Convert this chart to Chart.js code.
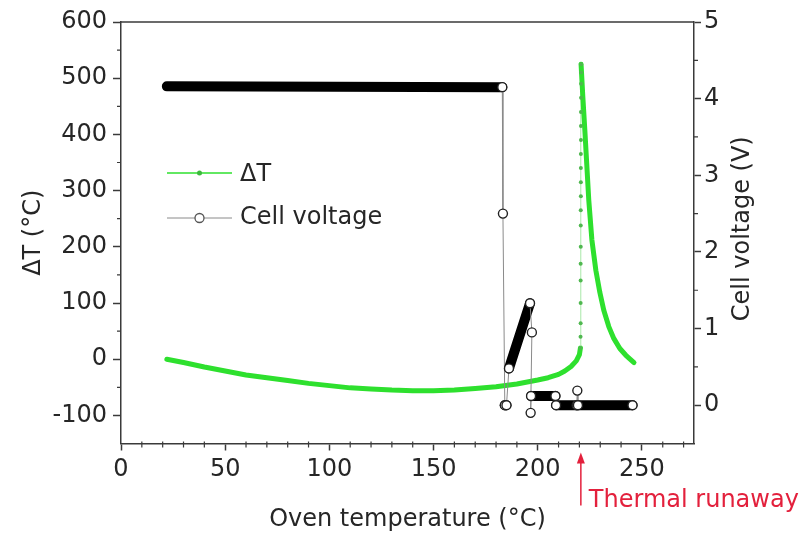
<!DOCTYPE html>
<html>
<head>
<meta charset="utf-8">
<script src="https://cdn.jsdelivr.net/npm/chart.js@4.4.0/dist/chart.umd.min.js"></script>
<style>
  html, body { margin: 0; padding: 0; background: #fff; }
  #wrap { width: 811px; height: 535px; }
</style>
</head>
<body>
<div id="wrap"><canvas id="chart" width="811" height="535"></canvas></div>
<script>
// temperature rise of the cell: oven temperature (°C) -> ΔT (°C)
const dtTemp = [22, 30, 40, 50, 60, 70, 80, 90, 100, 110, 120, 130, 140, 150, 160, 170, 180, 190, 200, 205, 210, 213, 216, 218.5, 220, 220.5,
  220.55, 220.6, 220.6, 220.6, 220.6, 220.65, 220.65, 220.65, 220.7, 220.7, 220.7, 220.7, 220.75, 220.75, 220.75, 220.8, 220.8, 220.8, 220.8,
  221.6, 222.6, 224.5, 226, 227.9, 229.8, 231.7, 234.1, 236.5, 239.4, 242.3, 246.2];
const dtValues = [0, -6, -14, -21, -28, -33, -38, -43, -47, -51, -53, -55, -56, -56, -55, -52, -49, -44, -37, -33, -27, -21, -13, -3, 8, 20,
  40, 64, 100, 140, 170, 200, 238, 265, 290, 315, 340, 365, 390, 415, 440, 465, 490, 510, 525,
  470, 408, 283, 212, 158, 119, 87, 58, 37, 19, 7, -6];

// cell voltage: oven temperature (°C) -> V
const voltTemp = [22, 183, 183.3, 184.2, 185, 186.2, 196.3, 197.2, 196.6, 196.8, 208.5, 208.8, 218.7, 219, 219.3, 245.5];
const voltValues = [4.16, 4.15, 2.5, 0, 0, 0.48, 1.33, 0.95, -0.1, 0.12, 0.12, 0, 0, 0.19, 0, 0];

const xTicks = [0, 50, 100, 150, 200, 250];
const dtTicks = [-100, 0, 100, 200, 300, 400, 500, 600];
const voltTicks = [0, 1, 2, 3, 4, 5];
const runawayTemp = 220.7;

const FONT = '"DejaVu Sans", sans-serif';
const TEXT = '#262626';
const AXIS = '#3a3a3a';
const GREEN = '#2ee02e';
const RED = '#e3203c';

Chart.defaults.font.family = FONT;
Chart.defaults.font.size = 24;
Chart.defaults.color = TEXT;

// a segment is a "jump" when it is much steeper than the dense runs around it
function dtJump(i) {
  if (i < 0 || i >= dtTemp.length - 1) return false;
  const dx = Math.abs(dtTemp[i + 1] - dtTemp[i]);
  const dy = Math.abs(dtValues[i + 1] - dtValues[i]);
  return dy > 5 && dy > 300 * dx;
}
function voltJump(i) {
  if (i < 0 || i >= voltTemp.length - 1) return false;
  const dx = Math.abs(voltTemp[i + 1] - voltTemp[i]);
  const dy = Math.abs(voltValues[i + 1] - voltValues[i]);
  return dy > 0.05 && dy > 0.2 * dx;
}

const decorations = {
  id: 'decorations',
  afterDraw(chart) {
    const { ctx, chartArea: a, scales } = chart;
    ctx.save();

    // top frame line
    ctx.strokeStyle = AXIS;
    ctx.lineWidth = 1.5;
    ctx.beginPath();
    ctx.moveTo(a.left, a.top);
    ctx.lineTo(a.right, a.top);
    ctx.stroke();

    // minor ticks
    ctx.lineWidth = 1.2;
    ctx.beginPath();
    for (let k = 1; k < 28; k++) {
      if (k % 5 === 0) continue;
      const px = scales.x.getPixelForValue(k * 10);
      ctx.moveTo(px, a.bottom - 2);
      ctx.lineTo(px, a.bottom + 4);
    }
    for (let k = -2; k < 12; k++) {
      if (k % 2 === 0) continue;
      const py = scales.y.getPixelForValue(k * 50);
      ctx.moveTo(a.left - 4, py);
      ctx.lineTo(a.left, py);
    }
    for (let k = 1; k < 10; k++) {
      if (k % 2 === 0) continue;
      const py = scales.y2.getPixelForValue(k * 0.5);
      ctx.moveTo(a.right, py);
      ctx.lineTo(a.right + 4, py);
    }
    ctx.stroke();

    // axis titles
    const midY = (a.top + a.bottom) / 2;
    ctx.fillStyle = TEXT;
    ctx.font = '24px ' + FONT;
    ctx.textAlign = 'center';
    ctx.textBaseline = 'middle';
    ctx.save();
    ctx.translate(a.left - 87, midY);
    ctx.rotate(-Math.PI / 2);
    ctx.fillText('ΔT (°C)', 0, 0);
    ctx.restore();
    ctx.save();
    ctx.translate(a.right + 49, midY - 4);
    ctx.rotate(-Math.PI / 2);
    ctx.fillText('Cell voltage (V)', 0, 0);
    ctx.restore();
    ctx.fillText('Oven temperature (°C)', (a.left + a.right) / 2, a.bottom + 76);

    // legend inside the plot
    const lx0 = a.left + 46, lx1 = a.left + 111, lxm = (lx0 + lx1) / 2;
    const ly1 = a.top + 151, ly2 = a.top + 196;
    ctx.lineWidth = 1.5;
    ctx.strokeStyle = GREEN;
    ctx.beginPath(); ctx.moveTo(lx0, ly1); ctx.lineTo(lx1, ly1); ctx.stroke();
    ctx.fillStyle = '#3cb83c';
    ctx.beginPath(); ctx.arc(lxm, ly1, 2.5, 0, Math.PI * 2); ctx.fill();
    ctx.strokeStyle = '#8a8a8a';
    ctx.lineWidth = 1;
    ctx.beginPath(); ctx.moveTo(lx0, ly2); ctx.lineTo(lx1, ly2); ctx.stroke();
    ctx.fillStyle = '#fff';
    ctx.strokeStyle = '#555';
    ctx.lineWidth = 1.3;
    ctx.beginPath(); ctx.arc(lxm, ly2, 4.5, 0, Math.PI * 2); ctx.fill(); ctx.stroke();
    ctx.fillStyle = TEXT;
    ctx.textAlign = 'left';
    ctx.fillText('ΔT', a.left + 119, ly1 + 2);
    ctx.fillText('Cell voltage', a.left + 119, ly2);

    // thermal runaway marker
    const ax = scales.x.getPixelForValue(runawayTemp);
    ctx.strokeStyle = RED;
    ctx.fillStyle = RED;
    ctx.lineWidth = 1.5;
    ctx.beginPath();
    ctx.moveTo(ax, a.bottom + 16);
    ctx.lineTo(ax, a.bottom + 62);
    ctx.stroke();
    ctx.beginPath();
    ctx.moveTo(ax, a.bottom + 9);
    ctx.lineTo(ax - 4, a.bottom + 20);
    ctx.lineTo(ax + 4, a.bottom + 20);
    ctx.closePath();
    ctx.fill();
    ctx.fillText('Thermal runaway', ax + 8, a.bottom + 57);

    ctx.restore();
  }
};

const ctx = document.getElementById('chart').getContext('2d');
const chart = new Chart(ctx, {
  type: 'line',
  data: {
    datasets: [{
      label: 'Cell voltage',
      yAxisID: 'y2',
      data: voltTemp.map((t, i) => ({ x: t, y: voltValues[i] })),
      borderColor: '#000',
      borderWidth: 10,
      borderCapStyle: 'round',
      borderJoinStyle: 'round',
      segment: {
        borderWidth: c => voltJump(c.p0DataIndex) ? 1 : 10,
        borderColor: c => voltJump(c.p0DataIndex) ? '#8a8a8a' : '#000'
      },
      pointRadius: c => (voltJump(c.dataIndex) || voltJump(c.dataIndex - 1) || c.dataIndex === voltTemp.length - 1) ? 4.5 : 0,
      pointBackgroundColor: '#fff',
      pointBorderColor: '#222',
      pointBorderWidth: 1.4,
      tension: 0
    }, {
      label: 'ΔT',
      yAxisID: 'y',
      data: dtTemp.map((t, i) => ({ x: t, y: dtValues[i] })),
      borderColor: GREEN,
      borderWidth: 5,
      borderCapStyle: 'round',
      borderJoinStyle: 'round',
      segment: {
        borderWidth: c => dtJump(c.p0DataIndex) ? 1 : 5,
        borderColor: c => dtJump(c.p0DataIndex) ? '#a8e8a8' : GREEN
      },
      pointRadius: c => (dtJump(c.dataIndex) || dtJump(c.dataIndex - 1)) ? 2 : 0,
      pointBackgroundColor: '#4fb84f',
      pointBorderWidth: 0,
      tension: 0
    }]
  },
  options: {
    responsive: false,
    animation: false,
    layout: { padding: { top: 22, left: 0, right: 0, bottom: 0 } },
    plugins: {
      legend: { display: false },
      tooltip: { enabled: false }
    },
    scales: {
      x: {
        type: 'linear',
        position: 'bottom',
        min: 0,
        max: 275,
        afterFit: s => { s.height = 91.5; },
        afterBuildTicks: s => { s.ticks = xTicks.map(v => ({ value: v })); },
        grid: { drawOnChartArea: false, tickColor: AXIS, tickLength: 7, tickWidth: 1.5 },
        border: { color: AXIS, width: 1.5 },
        ticks: { color: TEXT, padding: 5, maxRotation: 0, autoSkip: false }
      },
      y: {
        position: 'left',
        min: -150,
        max: 600,
        afterFit: s => { s.width = 121; },
        afterBuildTicks: s => { s.ticks = dtTicks.map(v => ({ value: v })); },
        grid: { drawOnChartArea: false, tickColor: AXIS, tickLength: 8, tickWidth: 1.5 },
        border: { color: AXIS, width: 1.5 },
        ticks: { color: TEXT, padding: 6, autoSkip: false }
      },
      y2: {
        position: 'right',
        min: -0.5,
        max: 5,
        afterFit: s => { s.width = 117; },
        afterBuildTicks: s => { s.ticks = voltTicks.map(v => ({ value: v })); },
        grid: { drawOnChartArea: false, tickColor: AXIS, tickLength: 7, tickWidth: 1.5 },
        border: { color: AXIS, width: 1.5 },
        ticks: { color: TEXT, padding: 3, autoSkip: false }
      }
    }
  },
  plugins: [decorations]
});
</script>
</body>
</html>
